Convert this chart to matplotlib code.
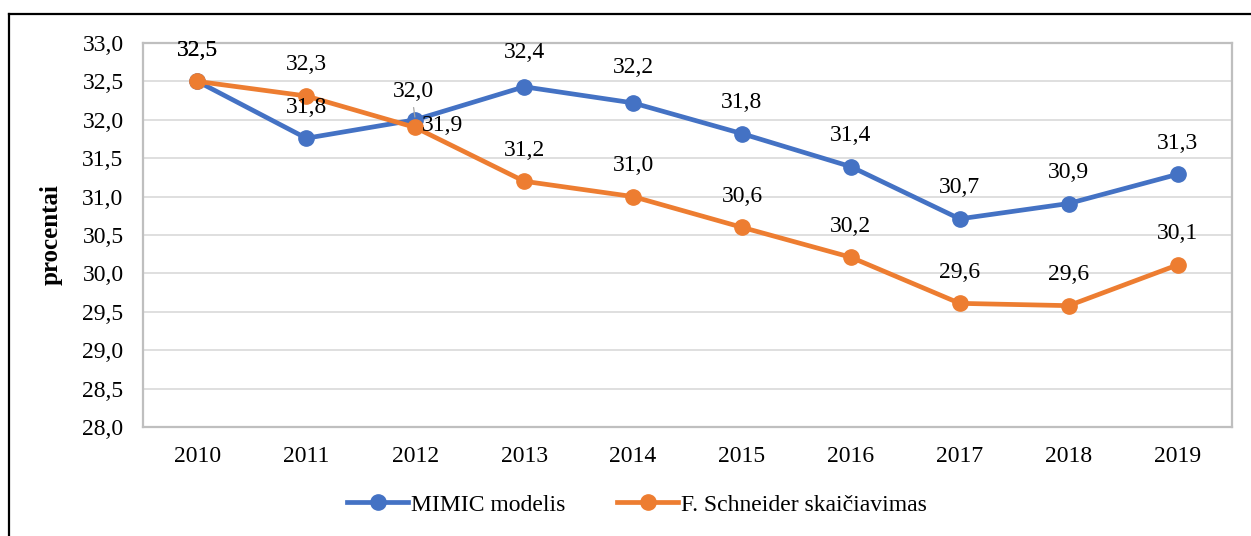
import matplotlib
matplotlib.use("Agg")
import matplotlib.pyplot as plt
from matplotlib.lines import Line2D

years = ["2010", "2011", "2012", "2013", "2014", "2015", "2016", "2017", "2018", "2019"]
mimic = [32.5, 31.76, 32.0, 32.43, 32.22, 31.82, 31.39, 30.71, 30.91, 31.29]
schneider = [32.5, 32.31, 31.9, 31.2, 31.0, 30.6, 30.21, 29.61, 29.58, 30.11]
mimic_labels = ["32,5", "31,8", "32,0", "32,4", "32,2", "31,8", "31,4", "30,7", "30,9", "31,3"]
schneider_labels = ["32,5", "32,3", "31,9", "31,2", "31,0", "30,6", "30,2", "29,6", "29,6", "30,1"]
yticks = [28.0, 28.5, 29.0, 29.5, 30.0, 30.5, 31.0, 31.5, 32.0, 32.5, 33.0]
ytick_labels = ["28,0", "28,5", "29,0", "29,5", "30,0", "30,5", "31,0", "31,5", "32,0", "32,5", "33,0"]
series_names = ["MIMIC modelis", "F. Schneider skaičiavimas"]

BLUE = "#4472C4"
ORANGE = "#ED7D31"
W, H = 1251, 536
FS = 17
plt.rcParams["font.family"] = ["Liberation Serif", "DejaVu Serif"]

fig = plt.figure(figsize=(W / 100, H / 100), dpi=100)
ax = fig.add_axes([143 / W, 1 - 427 / H, (1232 - 143) / W, (427 - 43) / H])

x = list(range(len(years)))
ax.plot(x, mimic, color=BLUE, lw=3.4, marker="o", ms=11, zorder=3)
ax.plot(x, schneider, color=ORANGE, lw=3.4, marker="o", ms=11, zorder=4)

# label offsets in pixels (dx, dy)
mimic_off = {2: (-2, 28), 3: (0, 34), 4: (0, 35)}
sch_off = {2: (27, 2)}
for i, (v, lab) in enumerate(zip(mimic, mimic_labels)):
    dx, dy = mimic_off.get(i, (0, 31))
    ax.annotate(lab, (i, v), xytext=(dx, dy), textcoords="offset pixels",
                ha="center", va="center", fontsize=FS, zorder=6)
    if i == 2:
        ax.annotate("", (i, v), xytext=(dx, dy - 13), textcoords="offset pixels",
                    arrowprops=dict(arrowstyle="-", color="#a6a6a6", lw=0.9), zorder=5)
for i, (v, lab) in enumerate(zip(schneider, schneider_labels)):
    dx, dy = sch_off.get(i, (0, 31))
    ax.annotate(lab, (i, v), xytext=(dx, dy), textcoords="offset pixels",
                ha="center", va="center", fontsize=FS, zorder=6)

ax.set_xlim(-0.5, len(years) - 0.5)
ax.set_ylim(28.0, 33.0)
ax.set_xticks(x)
ax.set_xticklabels(years, fontsize=FS)
ax.set_yticks(yticks)
ax.set_yticklabels(ytick_labels, fontsize=FS)
ax.tick_params(axis="both", length=0)
ax.tick_params(axis="x", pad=14)
ax.tick_params(axis="y", pad=14)
ax.grid(axis="y", color="#d9d9d9", lw=1.2)
ax.set_axisbelow(True)
for s in ax.spines.values():
    s.set_color("#bfbfbf")
    s.set_linewidth(1.6)
ax.set_ylabel("procentai", fontsize=18, fontweight="bold")
ax.yaxis.set_label_coords(-80 / (1232 - 143), 0.5)

handles = [Line2D([], [], color=BLUE, lw=3.4, marker="o", ms=11),
           Line2D([], [], color=ORANGE, lw=3.4, marker="o", ms=11)]
fig.legend(handles, series_names, loc="center", bbox_to_anchor=(0.509, 1 - 505 / H),
           ncol=2, frameon=False, fontsize=FS, handlelength=2.6, handletextpad=0.1,
           columnspacing=2.2)

# outer border (left and top visible)
fig.add_artist(Line2D([8.5 / W, 8.5 / W], [0, 1 - 14 / H], color="black", lw=1.6,
                      transform=fig.transFigure))
fig.add_artist(Line2D([8.5 / W, 1], [1 - 14 / H, 1 - 14 / H], color="black", lw=1.6,
                      transform=fig.transFigure))

fig.savefig("out.png", dpi=100, facecolor="white")
